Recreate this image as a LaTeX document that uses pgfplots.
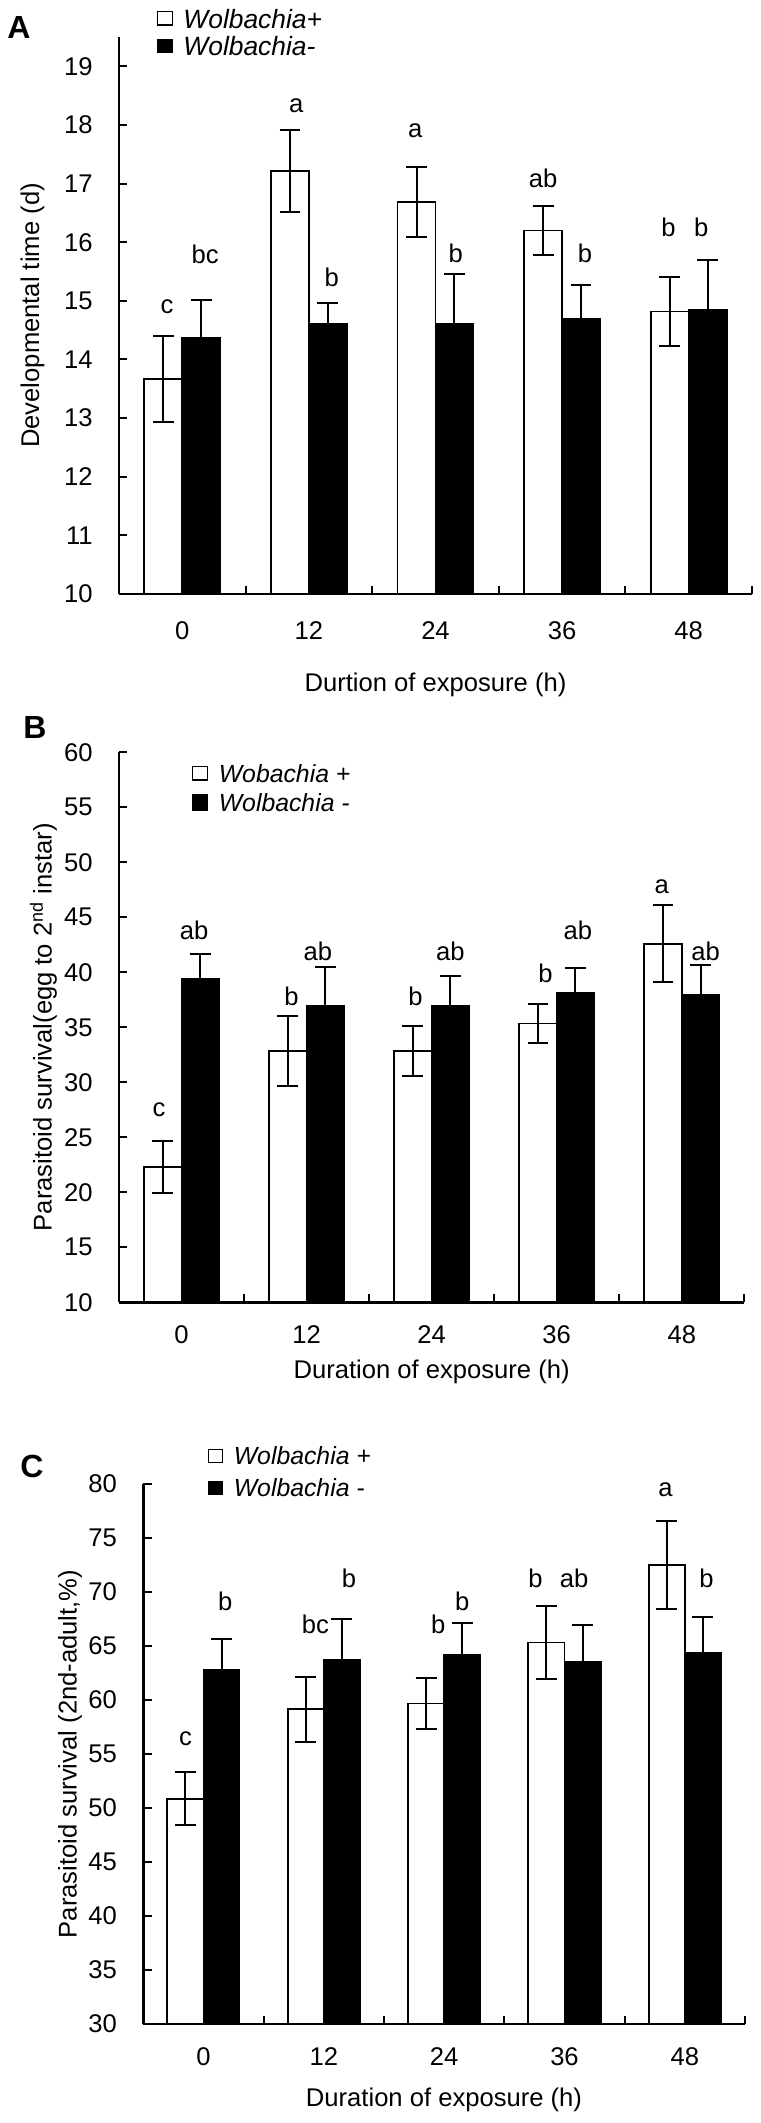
\documentclass[border=0pt]{standalone}
\usepackage{pgfplots}
\pgfplotsset{compat=1.18}
\usepackage{fontspec}
\setmainfont{Liberation Sans}
\begin{document}
\begin{tikzpicture}
\useasboundingbox (0,0) rectangle (380pt,-1061.5pt);
\pgfplotsset{
 mybar/.style={
  scale only axis, anchor=south west,
  xmin=-0.5, xmax=4.5,
  ybar=0pt, bar width=0.3,
  axis x line*=bottom, axis y line*=left,
  axis line style={-, line width=1.2pt},
  tick align=inside,
  xtick={-0.5,0.5,...,4.5}, xticklabels={},
  extra x ticks={0,1,2,3,4},
  extra x tick labels={0,12,24,36,48},
  extra x tick style={major tick length=0pt},
  major tick length=4.2pt,
  tick style={black, line width=1pt},
  tick label style={font=\fontsize{12.8}{15}\selectfont},
  /pgf/number format/assume math mode=true,
  yticklabel style={anchor=east, inner sep=0pt, xshift=-13pt},
  clip mode=individual,
 },
 wbar/.style={draw=black, fill=white, line width=0.9pt,
  error bars/y dir=both, error bars/y explicit,
  error bars/error bar style={line width=1pt, black, solid},
  error bars/error mark options={rotate=90, mark size=5.2pt, line width=1pt, black}},
 bbar/.style={draw=black, fill=black, line width=0.9pt,
  error bars/y dir=both, error bars/y explicit,
  error bars/error bar style={line width=1pt, black, solid},
  error bars/error mark options={rotate=90, mark size=5.2pt, line width=1pt, black}},
}
\tikzset{axlbl/.style={font=\fontsize{12.8}{15}\selectfont},
  lbl/.style={anchor=base, font=\fontsize{12.8}{15}\selectfont},
  panel/.style={font=\fontsize{16}{18}\selectfont\bfseries}}

% ---------------- Panel A ----------------
\begin{axis}[mybar, at={(59.5pt,-297pt)}, width=316.5pt, height=278.5pt,
  ymin=10, ymax=19.5, ytick={10,11,...,19},
  xticklabel style={anchor=center, inner sep=0pt, yshift=-18.5pt}]
\addplot[wbar] coordinates {(0,13.67) +- (0,0.73) (1,17.22) +- (0,0.70) (2,16.69) +- (0,0.60) (3,16.20) +- (0,0.41) (4,14.82) +- (0,0.59)};
\addplot[bbar] coordinates {(0,14.37) +- (0,0.64) (1,14.61) +- (0,0.36) (2,14.61) +- (0,0.84) (3,14.69) +- (0,0.58) (4,14.85) +- (0,0.85)};
\node[lbl] at (axis cs:-0.12,14.79) {c};
\node[lbl] at (axis cs:0.18,15.63) {bc};
\node[lbl] at (axis cs:0.9,18.22) {a};
\node[lbl] at (axis cs:1.18,15.24) {b};
\node[lbl] at (axis cs:1.84,17.79) {a};
\node[lbl] at (axis cs:2.16,15.66) {b};
\node[lbl] at (axis cs:2.85,16.94) {ab};
\node[lbl] at (axis cs:3.18,15.66) {b};
\node[lbl] at (axis cs:3.84,16.09) {b};
\node[lbl] at (axis cs:4.1,16.09) {b};
\end{axis}
\node[panel] at (9.5pt,-13.75pt) {A};
\draw[line width=0.6pt, fill=white] (78.85pt,-5.85pt) rectangle (86.35pt,-12.5pt);
\draw[line width=0.6pt, fill=black] (78.85pt,-19.65pt) rectangle (86.35pt,-26.15pt);
\node[anchor=west, inner sep=0pt, font=\fontsize{13.2}{15}\selectfont\itshape] at (91.5pt,-9.3pt) {Wolbachia+};
\node[anchor=west, inner sep=0pt, font=\fontsize{13.2}{15}\selectfont\itshape] at (91.5pt,-22.9pt) {Wolbachia-};
\node[axlbl, rotate=90] at (16.25pt,-157.75pt) {Developmental time (d)};
\node[axlbl] at (217.75pt,-342.5pt) {Durtion of exposure (h)};

% ---------------- Panel B ----------------
\begin{axis}[mybar, at={(59.5pt,-651.15pt)}, width=312.65pt, height=275pt,
  ymin=10, ymax=60, ytick={10,15,...,60},
  xticklabel style={anchor=center, inner sep=0pt, yshift=-16.35pt}]
\addplot[wbar] coordinates {(0,22.32) +- (0,2.35) (1,32.84) +- (0,3.15) (2,32.84) +- (0,2.30) (3,35.35) +- (0,1.80) (4,42.60) +- (0,3.50)};
\addplot[bbar] coordinates {(0,39.42) +- (0,2.20) (1,36.94) +- (0,3.50) (2,36.94) +- (0,2.75) (3,38.16) +- (0,2.25) (4,37.94) +- (0,2.70)};
\node[lbl] at (axis cs:-0.18,26.9) {c};
\node[lbl] at (axis cs:0.1,43.0) {ab};
\node[lbl] at (axis cs:0.88,37.0) {b};
\node[lbl] at (axis cs:1.09,41.1) {ab};
\node[lbl] at (axis cs:1.87,37.0) {b};
\node[lbl] at (axis cs:2.15,41.1) {ab};
\node[lbl] at (axis cs:2.91,39.1) {b};
\node[lbl] at (axis cs:3.17,43.0) {ab};
\node[lbl] at (axis cs:3.84,47.2) {a};
\node[lbl] at (axis cs:4.19,41.1) {ab};
\end{axis}
\node[panel] at (17.5pt,-363.75pt) {B};
\draw[line width=0.6pt, fill=white] (96.35pt,-383.35pt) rectangle (103.65pt,-390pt);
\draw[line width=0.6pt, fill=black] (96.35pt,-397.5pt) rectangle (103.65pt,-405.35pt);
\node[anchor=west, inner sep=0pt, font=\fontsize{12.4}{15}\selectfont\itshape] at (109.2pt,-386.7pt) {Wobachia +};
\node[anchor=west, inner sep=0pt, font=\fontsize{12.4}{15}\selectfont\itshape] at (109.2pt,-401.4pt) {Wolbachia -};
\node[axlbl, rotate=90] at (21.75pt,-513.6pt) {Parasitoid survival(egg to 2\textsuperscript{nd} instar)};
\node[axlbl] at (215.8pt,-685.85pt) {Duration of exposure (h)};

% ---------------- Panel C ----------------
\begin{axis}[mybar, at={(71.65pt,-1012pt)}, width=300.85pt, height=270pt,
  ymin=30, ymax=80, ytick={30,35,...,80},
  xticklabel style={anchor=center, inner sep=0pt, yshift=-16.35pt}]
\addplot[wbar] coordinates {(0,50.86) +- (0,2.45) (1,59.14) +- (0,3.00) (2,59.68) +- (0,2.40) (3,65.32) +- (0,3.35) (4,72.52) +- (0,4.10)};
\addplot[bbar] coordinates {(0,62.75) +- (0,2.90) (1,63.69) +- (0,3.80) (2,64.19) +- (0,2.90) (3,63.51) +- (0,3.40) (4,64.37) +- (0,3.35)};
\node[lbl] at (axis cs:-0.15,55.8) {c};
\node[lbl] at (axis cs:0.18,68.3) {b};
\node[lbl] at (axis cs:0.93,66.2) {bc};
\node[lbl] at (axis cs:1.21,70.4) {b};
\node[lbl] at (axis cs:1.95,66.2) {b};
\node[lbl] at (axis cs:2.15,68.3) {b};
\node[lbl] at (axis cs:2.76,70.4) {b};
\node[lbl] at (axis cs:3.08,70.4) {ab};
\node[lbl] at (axis cs:3.84,78.8) {a};
\node[lbl] at (axis cs:4.18,70.4) {b};
\end{axis}
\node[panel] at (16pt,-733pt) {C};
\draw[line width=0.6pt, fill=white] (104.2pt,-724.7pt) rectangle (111.3pt,-731.3pt);
\draw[line width=0.6pt, fill=black] (104.2pt,-740.8pt) rectangle (111.3pt,-747.2pt);
\node[anchor=west, inner sep=0pt, font=\fontsize{12.4}{15}\selectfont\itshape] at (116.7pt,-728pt) {Wolbachia +};
\node[anchor=west, inner sep=0pt, font=\fontsize{12.4}{15}\selectfont\itshape] at (116.7pt,-744pt) {Wolbachia -};
\node[axlbl, rotate=90] at (35pt,-877pt) {Parasitoid survival (2nd-adult,\%)};
\node[axlbl] at (222pt,-1050pt) {Duration of exposure (h)};
\end{tikzpicture}
\end{document}
